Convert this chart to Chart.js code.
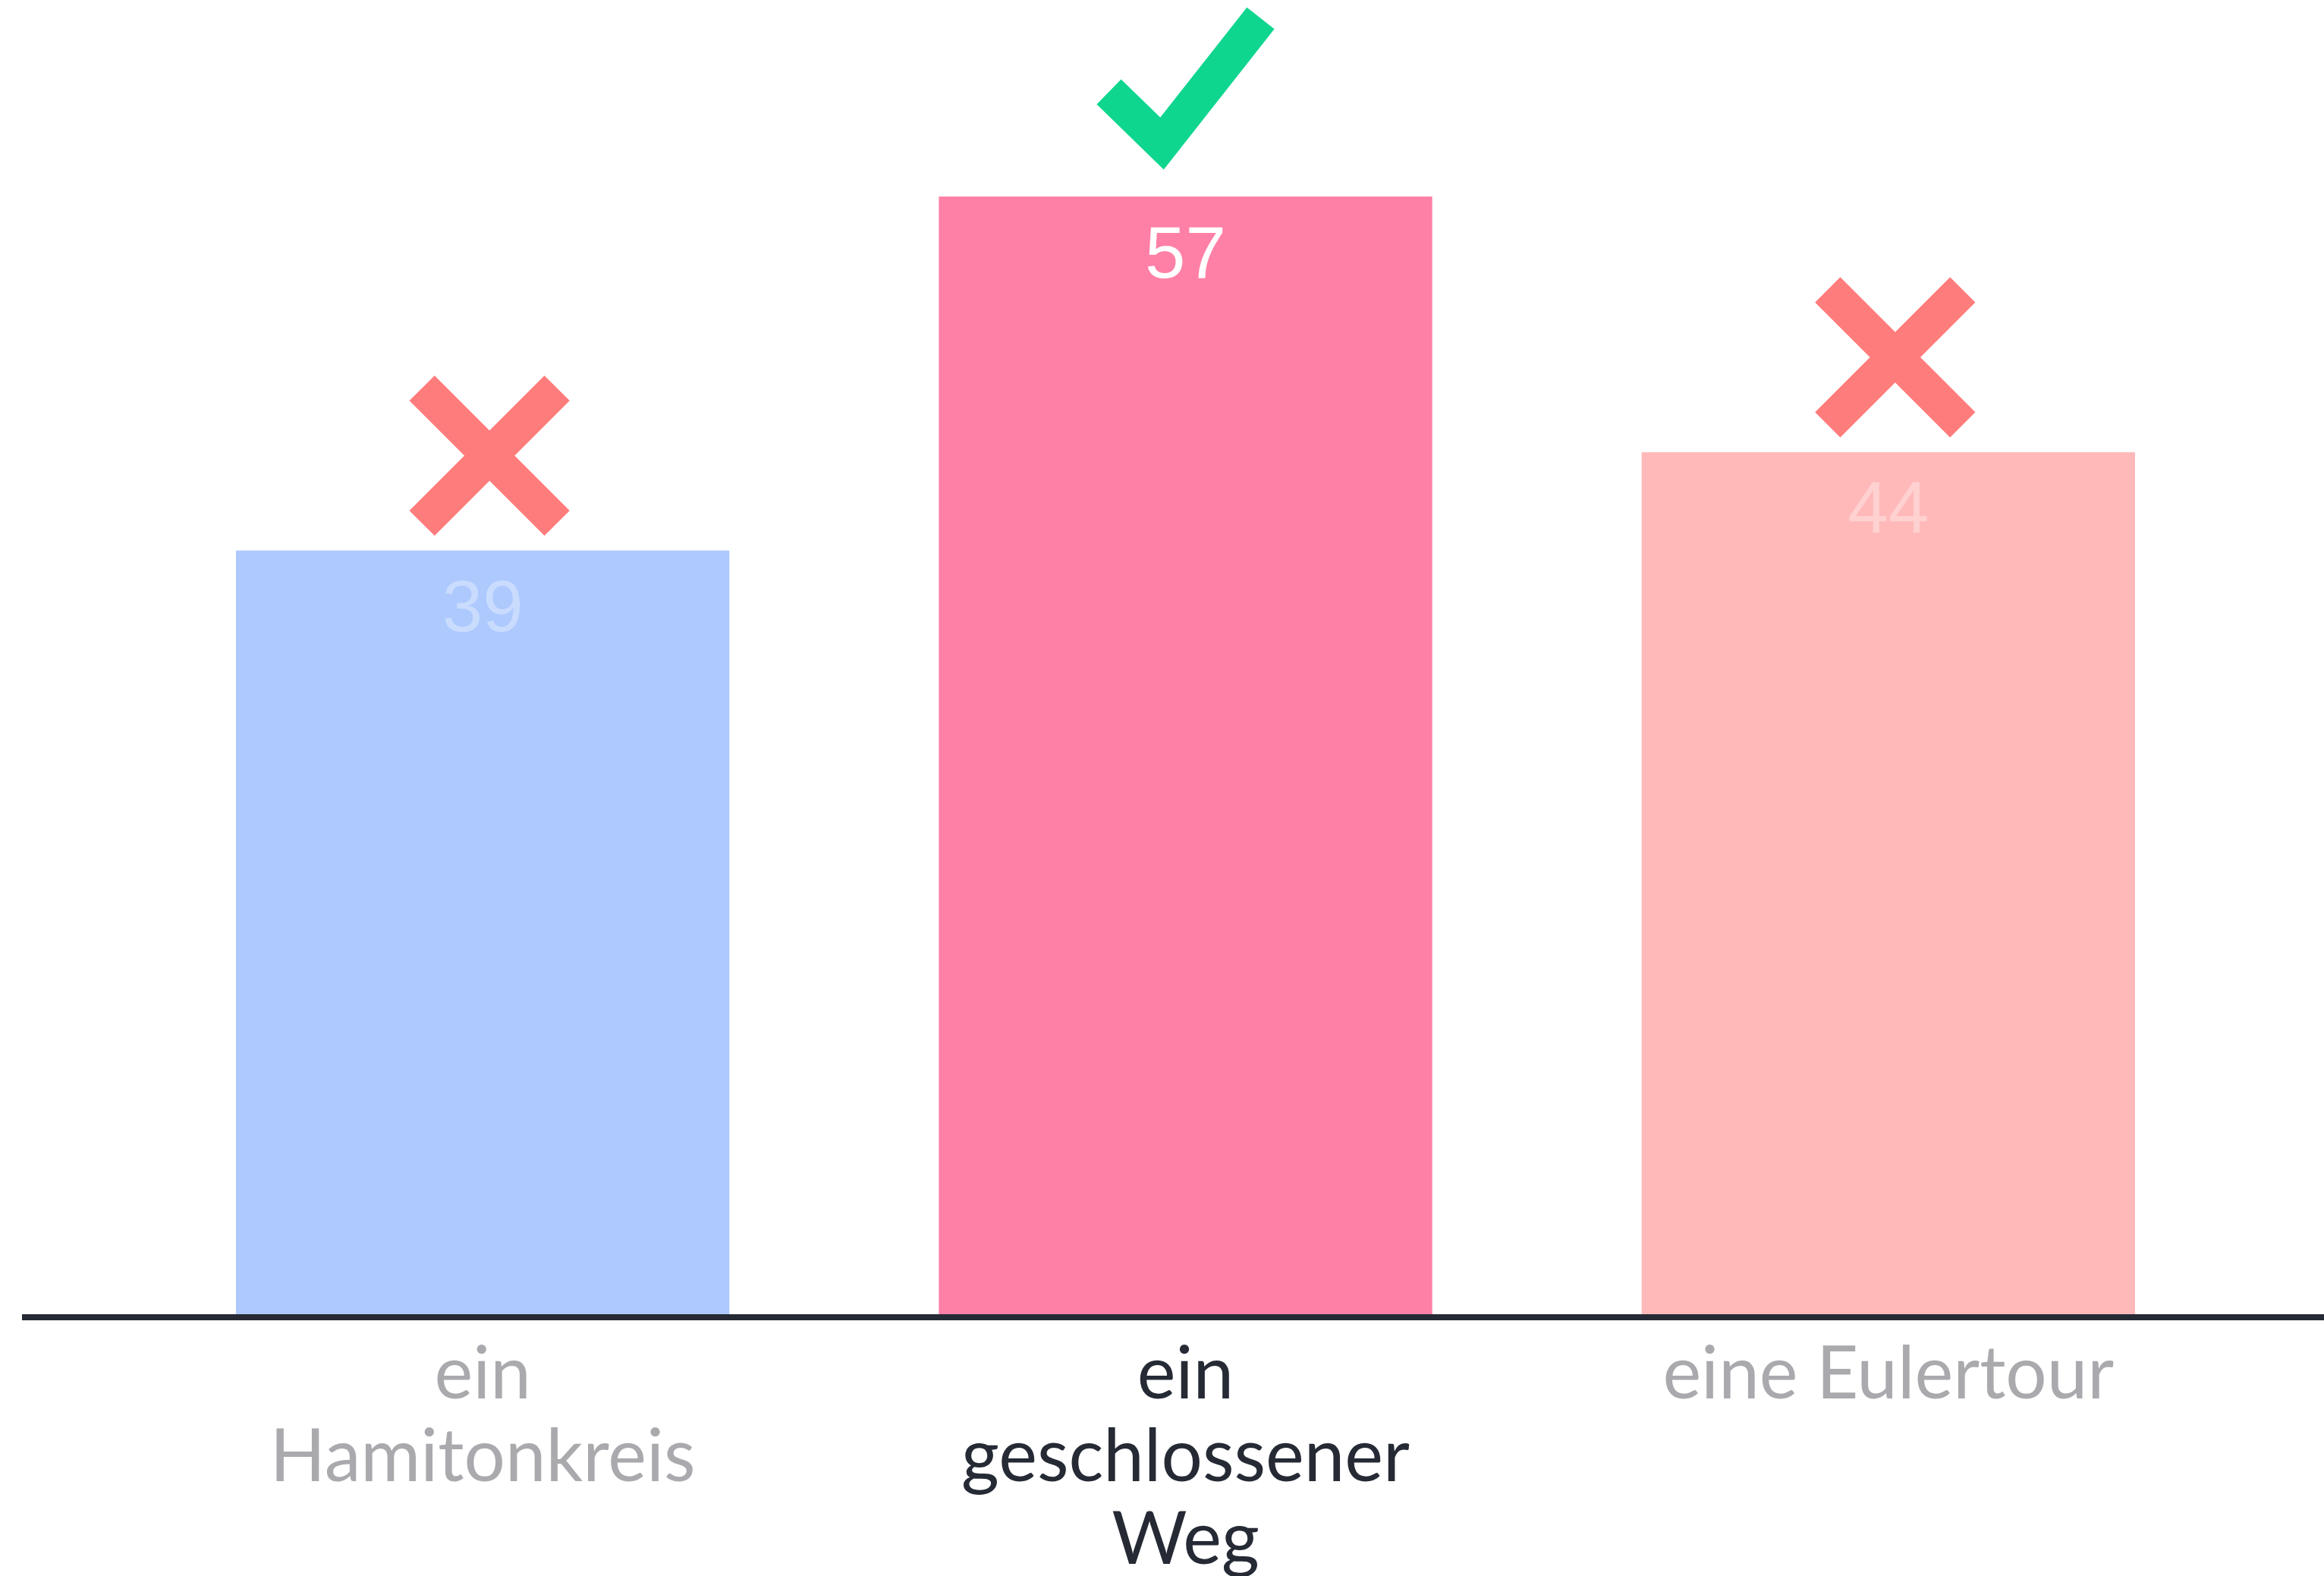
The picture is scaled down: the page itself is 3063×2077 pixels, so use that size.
<!DOCTYPE html>
<html>
<head>
<meta charset="utf-8">
<script src="https://cdn.jsdelivr.net/npm/chart.js@4/dist/chart.umd.min.js"></script>
<style>
  html, body { margin: 0; padding: 0; background: #fff; }
  #wrap { width: 3063px; height: 2077px; }
</style>
</head>
<body>
<div id="wrap"><canvas id="chart" width="3063" height="2077"></canvas></div>
<script>
// answers of the quiz question
var labels = [["ein", "Hamitonkreis"], ["ein", "geschlossener", "Weg"], "eine Eulertour"];
var votes = [39, 57, 44];
var barColors = ["#adc9fe", "#ff80a6", "#ffb9b9"];
var valueColors = ["rgba(255,255,255,0.35)", "#ffffff", "rgba(255,255,255,0.35)"];
var marks = ["cross", "check", "cross"];
var correctIndex = 1;

// value labels, right/wrong marks and the baseline
var decorations = {
    id: "decorations",
    afterDatasetsDraw: function(chart) {
        var ctx = chart.ctx;
        var meta = chart.getDatasetMeta(0);
        var zero = chart.scales.y.getPixelForValue(0);

        ctx.save();
        ctx.fillStyle = "#252a35";
        ctx.fillRect(29, zero - 4, chart.width - 29, 8);

        meta.data.forEach(function(bar, i) {
            var top = bar.y;

            ctx.fillStyle = valueColors[i];
            ctx.font = "96px 'Liberation Sans', Arial, sans-serif";
            ctx.textAlign = "center";
            ctx.textBaseline = "middle";
            ctx.fillText(String(votes[i]), bar.x, top + 80);

            ctx.lineCap = "butt";
            ctx.lineJoin = "miter";
            if (marks[i] === "check") {
                ctx.strokeStyle = "#0fd68f";
                ctx.lineWidth = 46;
                ctx.beginPath();
                ctx.moveTo(bar.x - 101, top - 138);
                ctx.lineTo(bar.x - 31, top - 70);
                ctx.lineTo(bar.x + 99, top - 235);
                ctx.stroke();
            } else {
                var cx = bar.x + 9, cy = top - 125, d = 89;
                ctx.strokeStyle = "#ff7c7c";
                ctx.lineWidth = 47;
                ctx.beginPath();
                ctx.moveTo(cx - d, cy - d);
                ctx.lineTo(cx + d, cy + d);
                ctx.moveTo(cx + d, cy - d);
                ctx.lineTo(cx - d, cy + d);
                ctx.stroke();
            }
        });
        ctx.restore();
    }
};

new Chart(document.getElementById("chart").getContext("2d"), {
    type: "bar",
    data: {
        labels: labels,
        datasets: [{
            data: votes,
            backgroundColor: barColors,
            borderWidth: 0,
            barPercentage: 0.702,
            categoryPercentage: 1
        }]
    },
    options: {
        responsive: false,
        animation: false,
        layout: { padding: { left: 173, right: 111, top: 0, bottom: 0 } },
        plugins: { legend: { display: false }, tooltip: { enabled: false } },
        scales: {
            x: {
                grid: { display: false, drawTicks: false },
                border: { display: false },
                afterFit: function(scale) { scale.height = 341; },
                ticks: {
                    padding: 22,
                    maxRotation: 0,
                    autoSkip: false,
                    font: { family: "Lato", size: 96, lineHeight: 1.135 },
                    color: function(c) { return c.index === correctIndex ? "#252a35" : "#aaaaae"; }
                }
            },
            y: {
                display: false,
                min: 0,
                max: 67
            }
        }
    },
    plugins: [decorations]
});
</script>
</body>
</html>
